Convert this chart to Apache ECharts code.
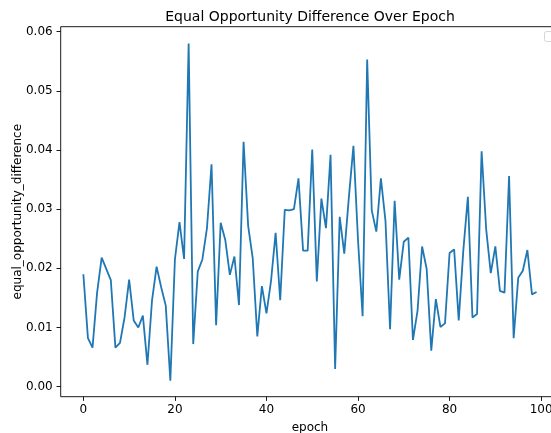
<!DOCTYPE html>
<html><head><meta charset="utf-8">
<script src="https://cdn.jsdelivr.net/npm/echarts@6/dist/echarts.min.js"></script>
<style>html,body{margin:0;padding:0;background:#fff}#c{width:551px;height:433px}</style>
</head><body><div id="c"></div>
<script>
const epochs = [0,1,2,3,4,5,6,7,8,9,10,11,12,13,14,15,16,17,18,19,20,21,22,23,24,25,26,27,28,29,30,31,32,33,34,35,36,37,38,39,40,41,42,43,44,45,46,47,48,49,50,51,52,53,54,55,56,57,58,59,60,61,62,63,64,65,66,67,68,69,70,71,72,73,74,75,76,77,78,79,80,81,82,83,84,85,86,87,88,89,90,91,92,93,94,95,96,97,98,99];
const eod = [0.0190,0.0082,0.0066,0.0159,0.0218,0.0199,0.0180,0.0066,0.0074,0.0117,
0.0181,0.0112,0.0100,0.0120,0.0037,0.0146,0.0203,0.0168,0.0137,0.0010,
0.0215,0.0278,0.0216,0.0580,0.0072,0.0195,0.0215,0.0268,0.0376,0.0104,
0.0277,0.0248,0.0189,0.0220,0.0138,0.0414,0.0272,0.0217,0.0085,0.0170,
0.0124,0.0179,0.0260,0.0146,0.0299,0.0298,0.0300,0.0352,0.0230,0.0230,
0.0401,0.0178,0.0318,0.0268,0.0392,0.0030,0.0287,0.0225,0.0320,0.0407,
0.0248,0.0119,0.0553,0.0298,0.0262,0.0352,0.0280,0.0097,0.0314,0.0181,
0.0245,0.0252,0.0079,0.0128,0.0237,0.0199,0.0061,0.0148,0.0101,0.0107,
0.0226,0.0232,0.0112,0.0230,0.0321,0.0117,0.0123,0.0398,0.0266,0.0192,
0.0237,0.0162,0.0159,0.0356,0.0082,0.0184,0.0196,0.0231,0.0156,0.0160];
const xTicks = [0,20,40,60,80,100];
const yTicks = [0,0.01,0.02,0.03,0.04,0.05,0.06];
const titleText = 'Equal Opportunity Difference Over Epoch';
const xName = 'epoch';
const yName = 'equal_opportunity_difference';

const FONT = 'DejaVu Sans';
const chart = echarts.init(document.getElementById('c'), null, {renderer:'canvas'});
chart.setOption({
  animation:false,
  backgroundColor:'#fff',
  title:{text:titleText, left:305, textAlign:'center', top:5.5,
    textStyle:{fontFamily:FONT, fontSize:14, fontWeight:'normal', color:'#000'}},
  grid:{left:60.7, top:26.7, width:498.5, height:370, show:true, borderColor:'#000', borderWidth:0.9,
    backgroundColor:'transparent', containLabel:false, outerBoundsMode:'none'},
  xAxis:{type:'value', min:-4.95, max:103.95,
    axisLine:{show:false, onZero:false},
    axisTick:{show:true, customValues:xTicks, length:4.2, lineStyle:{color:'#000', width:0.9}},
    axisLabel:{customValues:xTicks, margin:7, fontFamily:FONT, fontSize:12, color:'#000'},
    splitLine:{show:false},
    name:xName, nameLocation:'middle', nameGap:25, nameMoveOverlap:false,
    nameTextStyle:{fontFamily:FONT, fontSize:12, color:'#000'}},
  yAxis:{type:'value', min:-0.00169, max:0.06084,
    axisLine:{show:false, onZero:false},
    axisTick:{show:true, customValues:yTicks, length:4.2, lineStyle:{color:'#000', width:0.9}},
    axisLabel:{customValues:yTicks, margin:8, fontFamily:FONT, fontSize:12, color:'#000', formatter:v=>v.toFixed(2)},
    splitLine:{show:false},
    name:yName, nameLocation:'middle', nameGap:37, nameRotate:90, nameMoveOverlap:false,
    nameTextStyle:{fontFamily:FONT, fontSize:12, color:'#000'}},
  graphic:[{type:'rect', shape:{x:544.5, y:31.5, width:9, height:10, r:2},
    style:{fill:'#fff', stroke:'#d6d6d6', lineWidth:1}, z:10}],
  series:[{type:'line', data:epochs.map((e,i)=>[e, eod[i]]), showSymbol:false, symbol:'none',
    lineStyle:{color:'#1f77b4', width:1.8}, itemStyle:{color:'#1f77b4'}}]
});
</script></body></html>
